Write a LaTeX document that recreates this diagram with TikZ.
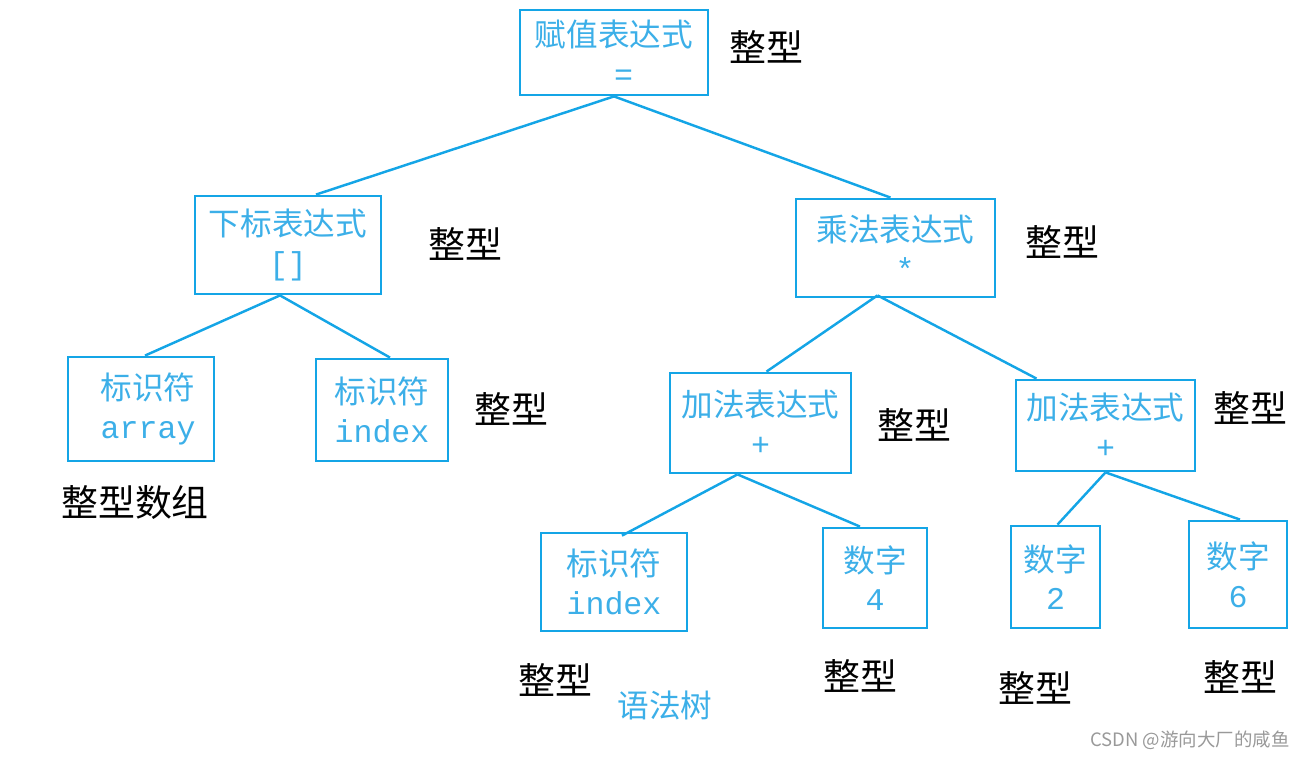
\documentclass[tikz,border=0pt]{standalone}
\usepackage{fontspec}
\setmainfont{Noto Sans CJK SC}
\newfontfamily\codefont{Liberation Mono}
\usetikzlibrary{positioning,calc}

\definecolor{treeblue}{RGB}{20,165,230}
\definecolor{treetext}{RGB}{60,175,232}
\newlength\pxu
\setlength\pxu{0.02cm}

\begin{document}
\begin{tikzpicture}[
    x=0.02cm,y=-0.02cm,
    exprnode/.style={
      draw=treeblue,line width=1.6pt,rectangle,inner sep=0pt,
      text=treetext,align=center,font=\fontsize{18}{22}\selectfont
    },
    typenote/.style={
      font=\fontsize{21}{24}\selectfont,text=black
    },
    edge/.style={
      draw=treeblue,line width=1.4pt
    }]

  \useasboundingbox (0,0) rectangle (1312,759);

  % expression nodes
  \node[exprnode,minimum width=188\pxu,minimum height=85\pxu] (root) at (614,52.5)
    {赋值表达式\\{\codefont\ =}};
  \node[exprnode,minimum width=186\pxu,minimum height=98\pxu] (sub) at (288,245)
    {下标表达式\\{\codefont []}};
  \node[exprnode,minimum width=199\pxu,minimum height=98\pxu] (mul) at (895.5,248)
    {乘法表达式\\{\codefont\ *}};
  \node[exprnode,minimum width=146\pxu,minimum height=104\pxu] (arr) at (141,409)
    {\ \ 标识符\\\ \ {\codefont array}};
  \node[exprnode,minimum width=132\pxu,minimum height=102\pxu] (idxa) at (382,410)
    {标识符\\{\codefont index}};
  \node[exprnode,minimum width=181\pxu,minimum height=100\pxu] (adda) at (760.5,423)
    {加法表达式\\{\codefont +}};
  \node[exprnode,minimum width=179\pxu,minimum height=91\pxu] (addb) at (1105.5,425.5)
    {加法表达式\\{\codefont +}};
  \node[exprnode,minimum width=146\pxu,minimum height=98\pxu] (idxb) at (614,582)
    {标识符\\{\codefont index}};
  \node[exprnode,minimum width=104\pxu,minimum height=100\pxu] (numf) at (875,578)
    {数字\\{\codefont 4}};
  \node[exprnode,minimum width=89\pxu,minimum height=102\pxu] (numt) at (1055.5,577)
    {数字\\{\codefont 2}};
  \node[exprnode,minimum width=98\pxu,minimum height=107\pxu] (nums) at (1238,574.5)
    {数字\\{\codefont 6}};

  % type notes
  \node[typenote] (troot) at (766,47) {整型};
  \node[typenote] (tsub) at (465,244) {整型};
  \node[typenote] (tmul) at (1062,242) {整型};
  \node[typenote] (tarr) at (135,503) {整型数组};
  \node[typenote] (tidxa) at (511,409) {整型};
  \node[typenote] (tadda) at (914,425) {整型};
  \node[typenote] (taddb) at (1250,408) {整型};
  \node[typenote] (tidxb) at (555,680) {整型};
  \node[typenote] (tnumf) at (860,676) {整型};
  \node[typenote] (tnumt) at (1035,688) {整型};
  \node[typenote] (tnums) at (1240,677) {整型};

  \node[text=treetext,font=\fontsize{18}{20}\selectfont] (title) at (665,705) {语法树};
  \node[text=gray!80,font=\fontsize{10.5}{12}\selectfont] (mark) at (1190,740) {CSDN @游向大厂的咸鱼};

  % edges
  \draw[edge] (root.south) -- ($(sub.north)+(28,0)$);
  \draw[edge] (root.south) -- ($(mul.north)+(-5,0)$);
  \draw[edge] ($(sub.south)+(-8,0)$) -- ($(arr.north)+(4,0)$);
  \draw[edge] ($(sub.south)+(-8,0)$) -- ($(idxa.north)+(8,0)$);
  \draw[edge] ($(mul.south)+(-18,-3)$) -- ($(adda.north)+(6,0)$);
  \draw[edge] ($(mul.south)+(-18,-3)$) -- ($(addb.north)+(-69,0)$);
  \draw[edge] ($(adda.south)+(-23,0)$) -- ($(idxb.north)+(8,4)$);
  \draw[edge] ($(adda.south)+(-23,0)$) -- ($(numf.north)+(-15,0)$);
  \draw[edge] (addb.south) -- ($(numt.north)+(2,0)$);
  \draw[edge] (addb.south) -- ($(nums.north)+(2,0)$);
\end{tikzpicture}
\end{document}
